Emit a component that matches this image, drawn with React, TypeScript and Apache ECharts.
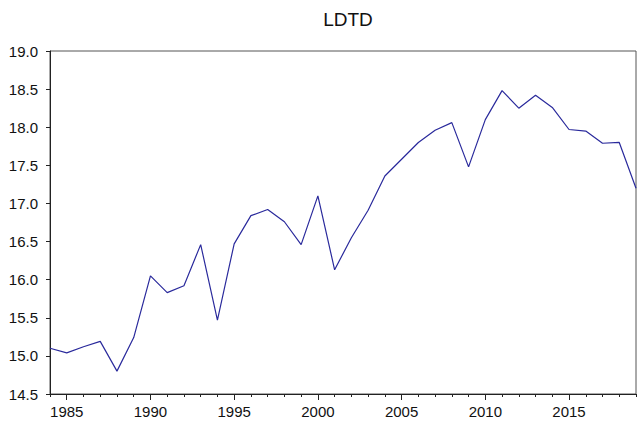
import React, { useEffect, useRef } from "react";
import * as echarts from "echarts";

const years: string[] = [
  "1984","1985","1986","1987","1988","1989","1990","1991","1992","1993",
  "1994","1995","1996","1997","1998","1999","2000","2001","2002","2003",
  "2004","2005","2006","2007","2008","2009","2010","2011","2012","2013",
  "2014","2015","2016","2017","2018","2019",
];
const ldtd: number[] = [
  15.10, 15.04, 15.12, 15.19, 14.80, 15.24, 16.05, 15.83, 15.92, 16.46,
  15.47, 16.47, 16.84, 16.92, 16.76, 16.46, 17.10, 16.13, 16.55, 16.91,
  17.36, 17.58, 17.80, 17.96, 18.06, 17.48, 18.10, 18.48, 18.25, 18.42,
  18.26, 17.97, 17.95, 17.79, 17.80, 17.20,
];
const yMin = 14.5;
const yMax = 19.0;
const yStep = 0.5;

const FONT = "'Liberation Sans', Arial, sans-serif";

export default function App() {
  const ref = useRef<HTMLDivElement>(null);
  useEffect(() => {
    document.body.style.margin = "0";
    if (!ref.current) return;
    const chart = echarts.init(ref.current, undefined, { renderer: "svg" });
    const isMajor = (i: number) => Number(years[i]) % 5 === 0;
    chart.setOption({
      animation: false,
      backgroundColor: "#ffffff",
      title: {
        text: "LDTD",
        left: 343,
        top: 5,
        textAlign: "center",
        textStyle: { fontFamily: FONT, fontSize: 19, fontWeight: "normal", color: "#111" },
      },
      grid: {
        left: 50,
        right: 4,
        top: 51,
        bottom: 32,
        show: true,
        borderColor: "#555",
        borderWidth: 1,
        backgroundColor: "#fff",
      },
      xAxis: [
        {
          type: "category",
          data: years,
          boundaryGap: false,
          position: "bottom",
          axisLine: { show: true, lineStyle: { color: "#222", width: 1 } },
          axisTick: {
            show: true,
            length: 6,
            interval: (i: number) => isMajor(i),
            lineStyle: { color: "#222" },
          },
          axisLabel: {
            interval: (i: number) => isMajor(i),
            margin: 10,
            fontFamily: FONT,
            fontSize: 15,
            color: "#111",
          },
          splitLine: { show: false },
        },
        {
          type: "category",
          data: years,
          boundaryGap: false,
          position: "bottom",
          axisLine: { show: false },
          axisTick: { show: true, length: 3, interval: 0, lineStyle: { color: "#222" } },
          axisLabel: { show: false },
          splitLine: { show: false },
        },
      ],
      yAxis: {
        type: "value",
        min: yMin,
        max: yMax,
        interval: yStep,
        axisLine: { show: true, lineStyle: { color: "#222", width: 1 } },
        axisTick: { show: true, length: 4, lineStyle: { color: "#222" } },
        axisLabel: {
          margin: 12,
          fontFamily: FONT,
          fontSize: 15,
          color: "#111",
          formatter: (v: number) => v.toFixed(1),
        },
        splitLine: { show: false },
      },
      series: [
        {
          type: "line",
          data: ldtd,
          xAxisIndex: 0,
          showSymbol: false,
          symbol: "none",
          lineStyle: { color: "#2a2a9c", width: 1.2 },
        },
      ],
    });
    return () => chart.dispose();
  }, []);
  return <div ref={ref} style={{ width: 640, height: 426 }} />;
}
